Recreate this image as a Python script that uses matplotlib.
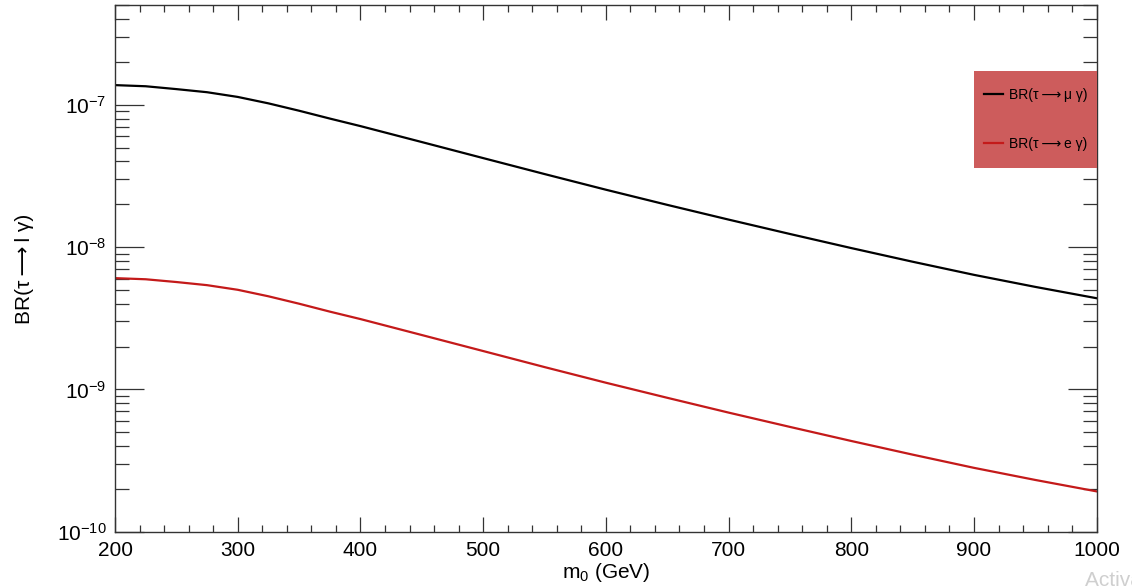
import matplotlib
matplotlib.use("Agg")
import matplotlib.pyplot as plt
from matplotlib.patches import Rectangle
from matplotlib.ticker import LogLocator, MultipleLocator, NullFormatter

plt.rcParams["font.family"] = ["Liberation Sans", "DejaVu Sans"]
plt.rcParams["mathtext.fontset"] = "custom"
plt.rcParams["mathtext.rm"] = "Liberation Sans"
plt.rcParams["mathtext.it"] = "Liberation Sans:italic"
plt.rcParams["mathtext.default"] = "regular"

# m0 in GeV
m0 = [200, 225, 250, 275, 300, 325, 350, 375, 400, 450, 500, 550, 600,
      650, 700, 750, 800, 850, 900, 950, 1000]

br_mu_gamma = [1.374e-7, 1.349e-7, 1.288e-7, 1.225e-7, 1.135e-7, 1.023e-7,
               9.08e-8, 8.00e-8, 7.08e-8, 5.47e-8, 4.22e-8, 3.26e-8, 2.53e-8,
               1.98e-8, 1.56e-8, 1.236e-8, 9.84e-9, 7.89e-9, 6.38e-9, 5.25e-9,
               4.37e-9]

br_e_gamma = [6.05e-9, 5.94e-9, 5.68e-9, 5.40e-9, 5.01e-9, 4.51e-9, 4.00e-9,
              3.52e-9, 3.12e-9, 2.41e-9, 1.86e-9, 1.435e-9, 1.114e-9, 8.73e-10,
              6.87e-10, 5.45e-10, 4.34e-10, 3.48e-10, 2.81e-10, 2.31e-10,
              1.92e-10]

fig = plt.figure(figsize=(11.32, 5.87), dpi=100)
ax = fig.add_axes([0.1016, 0.0942, 0.8672, 0.8968])

ax.plot(m0, br_mu_gamma, color="black", lw=1.6, label="BR(τ\u2009⟶\u2009μ γ)")
ax.plot(m0, br_e_gamma, color="#c41a1a", lw=1.6, label="BR(τ\u2009⟶\u2009e γ)")

ax.set_yscale("log")
ax.set_xlim(200, 1000)
ax.set_ylim(1e-10, 5e-7)

ax.xaxis.set_major_locator(MultipleLocator(100))
ax.xaxis.set_minor_locator(MultipleLocator(20))
ax.yaxis.set_major_locator(LogLocator(base=10, numticks=10))
ax.yaxis.set_minor_locator(LogLocator(base=10, subs=range(2, 10), numticks=20))
ax.yaxis.set_minor_formatter(NullFormatter())

ax.tick_params(axis="both", which="both", direction="in", top=True,
               right=True, width=0.9, color="#333333", labelsize=15)
ax.tick_params(axis="x", which="major", length=11, pad=7)
ax.tick_params(axis="x", which="minor", length=5)
ax.tick_params(axis="y", which="major", length=21, pad=6)
ax.tick_params(axis="y", which="minor", length=10)
for s in ax.spines.values():
  s.set_color("#333333")
  s.set_linewidth(1.0)

ax.set_xlabel(r"m$_0$ (GeV)", fontsize=15)
ax.set_ylabel("BR(τ\u2009⟶\u2009l γ)", fontsize=15)
ax.xaxis.set_label_coords(0.5, -0.056)
ax.yaxis.set_label_coords(-0.083, 0.5)

# legend box (ROOT-style filled pave)
ax.add_patch(Rectangle((0.875, 0.691), 0.125, 0.184, transform=ax.transAxes,
                       facecolor="#cd5c5c", edgecolor="none", zorder=4,
                       clip_on=False))
leg = ax.legend(loc="center", bbox_to_anchor=(0.875, 0.691, 0.125, 0.184),
                fontsize=10, frameon=False, handlelength=1.4,
                handletextpad=0.4, labelspacing=2.5, borderpad=0,
                borderaxespad=0)
leg.set_zorder(5)

fig.text(1085 / 1132, 1 - 580 / 587, "Activate Windows", color="#cfcfcf",
         fontsize=15, ha="left", va="center")

fig.savefig("out.png", dpi=100)
